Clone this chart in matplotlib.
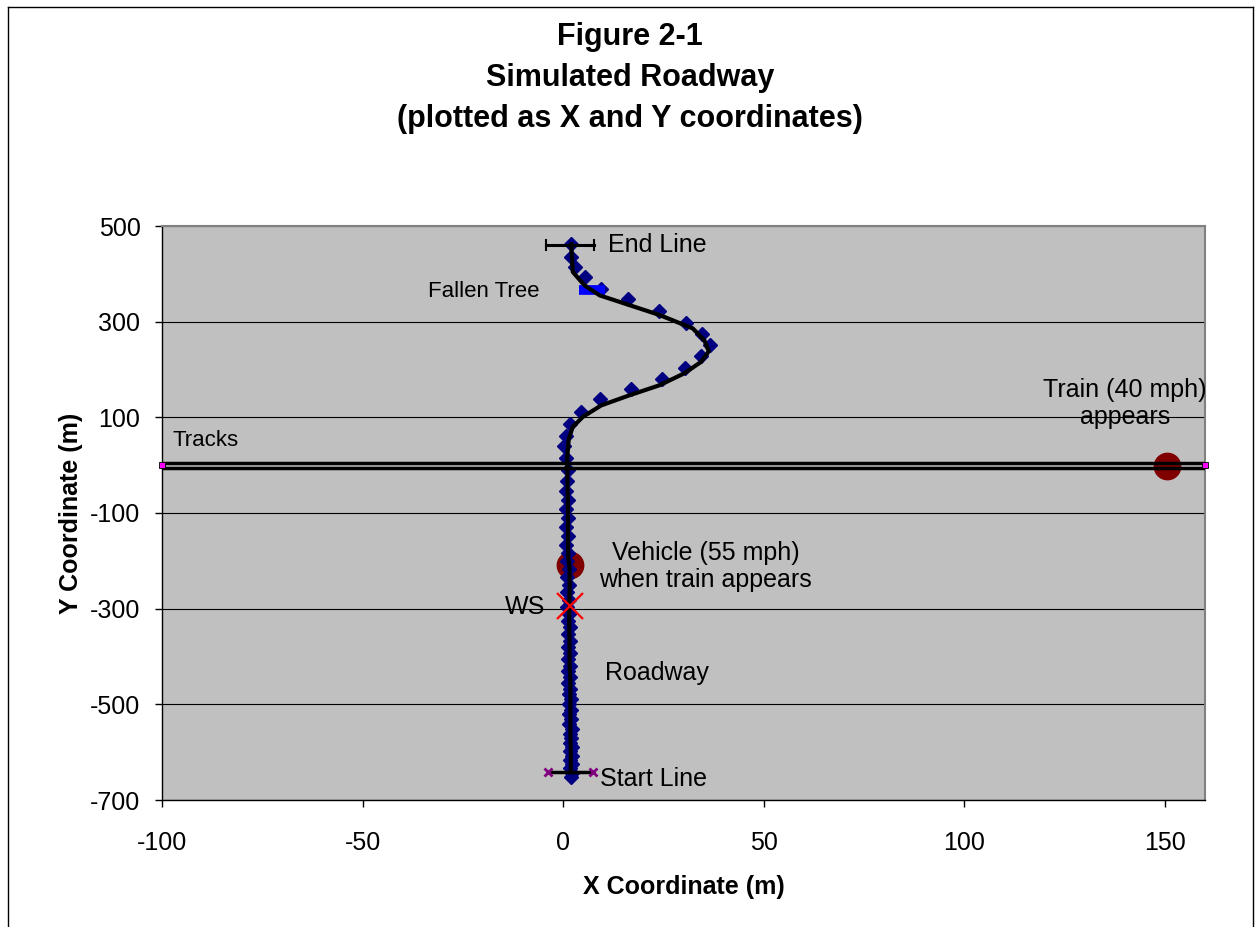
import matplotlib
matplotlib.use("Agg")
import matplotlib.pyplot as plt
from matplotlib.lines import Line2D

plt.rcParams['font.family'] = ['Liberation Sans', 'DejaVu Sans']
plt.rcParams['axes.unicode_minus'] = False

# ---- data ----
x_road = [1.9, 2.2, 1.7, 2.1, 1.6, 2.1, 1.7, 2.2, 1.6, 2.0,
          1.6, 2.1, 1.5, 2.0, 1.5, 1.9, 1.4, 1.9, 1.4, 1.8,
          1.3, 1.8, 1.3, 1.7, 1.2, 1.7, 1.2, 1.6, 1.1, 1.6,
          1.1, 1.5, 1.0, 1.5, 1.0, 1.4, 0.9, 1.4, 0.9, 1.3,
          0.8, 1.3, 0.8, 1.2, 0.7, 1.1, 0.7, 1.0, 1.2,
          0.8, 0.3, 0.8, 1.8, 4.5, 9.1, 16.8, 24.7, 30.4, 34.4,
          36.5, 34.6, 30.6, 24.0, 16.1, 9.5, 5.5, 3.0, 1.9, 2.0]
y_road = [-652, -643, -634, -625, -616, -607, -598, -589, -580, -571,
          -561, -551, -541, -531, -521, -511, -500, -489, -478, -467,
          -455, -443, -431, -419, -406, -393, -380, -367, -353, -339,
          -325, -311, -297, -282, -266, -250, -234, -217, -200, -183,
          -166, -148, -129, -110, -91, -72, -53, -33, -11,
          16, 40, 62, 87, 111, 138, 160, 181, 203, 228,
          252, 275, 298, 322, 347, 369, 394, 415, 436, 462]

x_path = [2.0, 2.4, 5.3, 9.1, 24.0, 32.3, 35.2, 36.3, 34.4, 30.2, 24.0, 16.5,
          9.5, 4.9, 2.4, 1.4, 1.0, 1.1, 1.2, 1.2, 1.3, 1.6, 1.6, 1.5, 1.6, 1.6,
          1.8, 1.8, 1.8, 1.9, 1.9]
y_path = [462, 404, 376, 355, 314, 286, 261, 238, 216, 192, 167, 146,
          125, 101, 80, 55, 14, -40, -100, -160, -195, -215, -260, -320, -380, -420,
          -450, -500, -560, -600, -642]

track_x = [-100, 160]
track_upper_y = [5.5, 5.5]
track_lower_y = [-5.5, -5.5]

start_x = [-3.8, 7.4]
start_y = [-642, -642]
end_x = [-4.2, 7.6]
end_y = [460, 460]

tree_x = [4.0, 10.5]
tree_y = [367, 367]

vehicle_x, vehicle_y = 1.8, -208
train_x, train_y = 150.6, -2
ws_x, ws_y = 1.6, -294

xticks = [-100, -50, 0, 50, 100, 150]
yticks = [-700, -500, -300, -100, 100, 300, 500]

# ---- figure ----
W, H = 1256, 927
fig = plt.figure(figsize=(W / 100, H / 100), dpi=100)
ax = fig.add_axes([162 / W, 1 - 800 / H, (1205 - 162) / W, (800 - 226) / H])
ax.set_facecolor('#C0C0C0')

ax.set_xlim(-100, 160)
ax.set_ylim(-700, 500)
ax.set_xticks(xticks)
ax.set_yticks(yticks)
ax.tick_params(axis='both', direction='out', length=5, width=1, labelsize=18)
ax.tick_params(axis='x', pad=17)
ax.tick_params(axis='y', pad=10.5)
ax.yaxis.grid(True, color='black', linewidth=0.8)
ax.set_axisbelow(True)
for s in ['left', 'bottom']:
    ax.spines[s].set_color('black')
    ax.spines[s].set_linewidth(1.0)
for s in ['top', 'right']:
    ax.spines[s].set_color('#808080')
    ax.spines[s].set_linewidth(1.5)

# circles (below lines)
ax.plot([vehicle_x], [vehicle_y], 'o', color='#800000', markersize=19, zorder=2)
ax.plot([train_x], [train_y], 'o', color='#800000', markersize=19, zorder=2)

# road diamonds
ax.plot(x_road, y_road, 'D', color='#000080', markersize=7.3, linestyle='none', zorder=3)

# fallen tree
ax.plot(tree_x, tree_y, color='#0000FF', linewidth=7, solid_capstyle='butt', zorder=3.5)

# vehicle path
ax.plot(x_path, y_path, color='black', linewidth=3, zorder=4)

# tracks
ax.plot(track_x, track_upper_y, color='black', linewidth=2.5, zorder=5)
ax.plot(track_x, track_lower_y, color='black', linewidth=2.5, zorder=5)
ax.plot([track_x[0]], [0], 's', color='#FF00FF', markersize=4, markeredgecolor='black',
        markeredgewidth=0.6, zorder=6, clip_on=False)
ax.plot([track_x[1]], [0], 's', color='#FF00FF', markersize=4, markeredgecolor='black',
        markeredgewidth=0.6, zorder=6, clip_on=False)

# start / end lines
ax.plot(start_x, start_y, color='black', linewidth=2.5, zorder=5)
ax.plot(start_x, start_y, 'x', color='#800080', markersize=6, markeredgewidth=2, zorder=6)
ax.plot(end_x, end_y, color='black', linewidth=2.2, zorder=5)
ax.plot(end_x, end_y, '|', color='black', markersize=8, markeredgewidth=1.5, zorder=6)

# WS marker
ax.plot([ws_x], [ws_y], 'x', color='#FF0000', markersize=19, markeredgewidth=1.6, zorder=6)

# annotations
ax.text(11.3, 460, 'End Line', fontsize=18, ha='left', va='center')
ax.text(-33.8, 364, 'Fallen Tree', fontsize=16, ha='left', va='center')
ax.text(-97.5, 52, 'Tracks', fontsize=16, ha='left', va='center')
ax.text(140, 129, 'Train (40 mph)\nappears', fontsize=18, ha='center', va='center',
        linespacing=1.15)
ax.text(35.5, -212, 'Vehicle (55 mph)\nwhen train appears', fontsize=18, ha='center',
        va='center', linespacing=1.15)
ax.text(-4.4, -296, 'WS', fontsize=18, ha='right', va='center')
ax.text(23.3, -434, 'Roadway', fontsize=18, ha='center', va='center')
ax.text(9.3, -656, 'Start Line', fontsize=18, ha='left', va='center')

ax.set_xlabel('X Coordinate (m)', fontsize=18, fontweight='bold', labelpad=15)
ax.set_ylabel('Y Coordinate (m)', fontsize=18, fontweight='bold', labelpad=5)

# title
fig.text(630 / W, 1 - 37 / H, 'Figure 2-1', fontsize=22, fontweight='bold',
         ha='center', va='center')
fig.text(630 / W, 1 - 78 / H, 'Simulated Roadway', fontsize=22, fontweight='bold',
         ha='center', va='center')
fig.text(630 / W, 1 - 119 / H, '(plotted as X and Y coordinates)', fontsize=22,
         fontweight='bold', ha='center', va='center')

# outer frame
lx, rx, ty = 8 / W, 1253 / W, 1 - 7 / H
fig.add_artist(Line2D([lx, lx], [0, ty], color='black', linewidth=1, transform=fig.transFigure))
fig.add_artist(Line2D([lx, rx], [ty, ty], color='black', linewidth=1, transform=fig.transFigure))
fig.add_artist(Line2D([rx, rx], [ty, 0], color='black', linewidth=1, transform=fig.transFigure))

fig.savefig('out.png', dpi=100)
